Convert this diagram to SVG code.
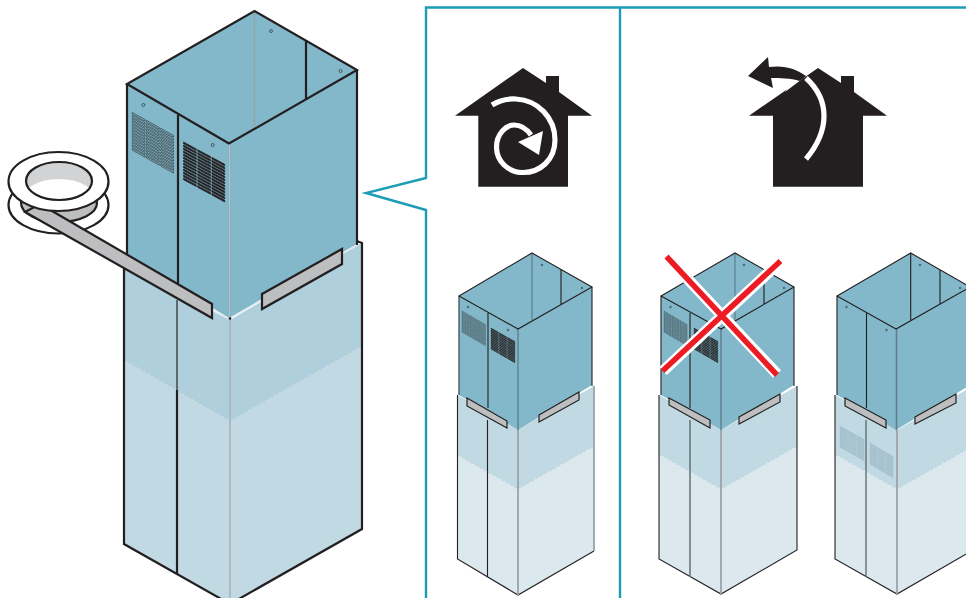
<svg xmlns="http://www.w3.org/2000/svg" xmlns:xlink="http://www.w3.org/1999/xlink" width="966" height="598" viewBox="0 0 966 598">
<style>
.k{fill:none;stroke:#231f20;stroke-width:2.2;stroke-linejoin:miter}
.k1{fill:none;stroke:#231f20;stroke-width:1.1}
.g{fill:none;stroke:#8fa5ad;stroke-width:1.6}
.gw{fill:none;stroke:#9aa3a8;stroke-width:1.8}
.dash{fill:none;stroke:#a5bcc6;stroke-width:.5;stroke-dasharray:3 2}
.teal{fill:#82b8ca}
.up{fill:#afcfdc}
.lo{fill:#c1d9e3}
.up2{fill:#c0d9e3}
.lo2{fill:#dbe8ee}
.strap{fill:#bcbec0;stroke:#231f20;stroke-width:2.2}
.strap2{fill:#bcbec0;stroke:#231f20;stroke-width:1.2}
.hole{fill:#82b8ca;stroke:#333;stroke-width:.7}
.frame{fill:none;stroke:#1c9db5;stroke-width:2.4}
.black{fill:#231f20}
.wl{fill:none;stroke:#fff;stroke-width:5.200}
.slat{fill:none;stroke:#231f20;stroke-width:.5}
.slatd{fill:#231f20;stroke:#231f20;stroke-width:.6}
</style>
<defs>
<clipPath id="holeclip"><ellipse cx="59" cy="181" rx="33" ry="19"/></clipPath>
<g id="row"><rect x="0" width="12.8" height="1.7"/><rect x="14.2" width="12.8" height="1.7"/><rect x="28.4" width="12.8" height="1.7"/></g>
<g id="grill">
<use xlink:href="#row" y="0"/><use xlink:href="#row" y="3"/><use xlink:href="#row" y="6"/><use xlink:href="#row" y="9"/><use xlink:href="#row" y="12"/><use xlink:href="#row" y="15"/><use xlink:href="#row" y="18"/><use xlink:href="#row" y="21"/><use xlink:href="#row" y="24"/><use xlink:href="#row" y="27"/><use xlink:href="#row" y="30"/><use xlink:href="#row" y="33"/><use xlink:href="#row" y="36"/>
</g>
</defs>

<g id="frame">
<path class="frame" d="M426 598V210L366 193L426 178V7.500H966"/>
<path class="frame" d="M620 7.500V598"/>
</g>

<g id="main-tower">
<path class="up" d="M124 266L230 320L362 243V346L230 421L124 360Z"/>
<path class="lo" d="M124 360L230 421L362 346V529L230 604L124 544Z"/>
<path class="dash" d="M124 360L230 421L362 346"/>
<path class="k" d="M124 266V544L230 604L362 529V243L354 240"/>
<path d="M177 300V390" fill="none" stroke="#4a4f52" stroke-width="1.600"/>
<path class="k" d="M177 390V574"/>
<path class="gw" d="M230 319V598"/>
<path d="M230 319V598" fill="none" stroke="#e4edf0" stroke-width=".5"/>
<path class="teal" d="M254.500 11L357 70V244L229 318L127 256V84Z"/>
<path d="M229 319L357 245M229 319L140 268" fill="none" stroke="#dfe6e9" stroke-width="1.200"/>
<path class="g" d="M254.500 11V130"/>
<path class="g" d="M229.500 144V318"/>
<path d="M229.500 144V318" fill="none" stroke="#cfe0e6" stroke-width=".5"/>
<circle cx="230" cy="318.500" r="1.300" fill="#231f20"/>
<path class="k" d="M306 41V100"/>
<path class="k" d="M178 115V286"/>
<path class="k" d="M127 84V256"/>
<path class="k" d="M357 70V245"/>
<path class="k" d="M229 143.500L127 84L254.500 11L357 70Z"/>
<circle class="hole" cx="143.300" cy="105" r="1.500"/>
<circle class="hole" cx="212.700" cy="145" r="1.500"/>
<circle class="hole" cx="271" cy="31" r="1.500"/>
<circle class="hole" cx="340.500" cy="71" r="1.500"/>
<g class="slat" transform="matrix(1 .555 0 1 132.300 112.500)"><use xlink:href="#grill"/></g>
<g class="slatd" transform="matrix(1 .54 0 1 183.500 142)"><use xlink:href="#grill"/></g>
<polygon class="strap" points="262,294 342,249 342,264 262,309"/>
</g>

<g id="tape-roll">
<ellipse cx="58.500" cy="205" rx="50" ry="28.500" fill="#fff" stroke="#231f20" stroke-width="2.200"/>
<ellipse cx="59" cy="203" rx="38" ry="19" fill="#bcbec0" stroke="#231f20" stroke-width="2.200"/>
<polygon class="strap" points="40,204 212,304 212,318 25,212"/>
<ellipse cx="58.500" cy="181.500" rx="50" ry="29.500" fill="#fff" stroke="#231f20" stroke-width="2.200"/>
<ellipse cx="59" cy="181" rx="33" ry="19" fill="#d1d3d4"/>
<ellipse cx="59" cy="200" rx="37" ry="21" fill="#fff" clip-path="url(#holeclip)"/>
<ellipse cx="59" cy="181" rx="33" ry="19" fill="none" stroke="#231f20" stroke-width="2.200"/>
</g>

<g id="icon-recirculate">
<path class="black" d="M523 68L546 83V76H559V92L592 115.700H568V186.700H478.300V115.700H455Z"/>
<path class="wl" d="M492 105C500 100 508 98.500 516 99C538 100 555 118 555 140C555 160 540 172.500 523 172.500C508 172.500 496.500 161 496.500 147C496.500 134 506 125 514 125C520 125 526 128 531 135"/>
<polygon points="543,131 539,155 518,142" fill="#fff"/>
</g>

<g id="icon-exhaust">
<path class="black" d="M818 68L841 83V76H854V92L887 115.700H863V186.700H773V115.700H749Z"/>
<path d="M806 159C830 130 830 100 806 78" fill="none" stroke="#fff" stroke-width="5.200"/>
<path d="M793 81L804 77L806 76L785 92Z" fill="#fff"/>
<path class="black" d="M748 76L768 57L769 67C785 65 796 69 806 76L800 81C790 78 780 78 771 78L773 88Z"/>
</g>

<g id="tower-a">
<path class="up2" d="M457.500 395L518 430L594 386V446L518 489L457.500 455Z"/>
<path class="lo2" d="M457.500 455L518 489L594 446V551L518 595L457.500 559Z"/>
<path class="dash" d="M457.500 455L518 489L594 446"/>
<path class="k1" d="M457.500 395V559L518 595L594 551"/>
<path class="gw" d="M594 386V551M518 430V595"/>
<path class="k1" d="M487.500 420V577"/>
<path class="teal" d="M532 253L592 287V385L518 430L459 395V296Z"/>
<path d="M532 253V320" stroke="#5f7f8c" stroke-width="1.200" fill="none"/>
<path d="M518 329V430" stroke="#5f7f8c" stroke-width="1.400" fill="none"/>
<path d="M459 296V395" stroke="#4a5a62" stroke-width="1.400" fill="none"/>
<path class="k1" d="M592 287V386M561 270V304M488 313V408M518 329L459 296L532 253L592 287Z"/>
<g class="slat" transform="matrix(.57 .33 0 .56 462 311)"><use xlink:href="#grill"/></g>
<g class="slatd" transform="matrix(.58 .33 0 .56 491 328)"><use xlink:href="#grill"/></g>
<circle class="hole" cx="468" cy="307" r=".8"/><circle class="hole" cx="508" cy="330" r=".8"/><circle class="hole" cx="542" cy="265" r=".8"/><circle class="hole" cx="582" cy="288" r=".8"/>
<polygon class="strap2" points="467,398 507,421 507,428 467,406"/>
<polygon class="strap2" points="539,415 579,392 579,400 539,422"/>
</g>

<g id="tower-b">
<path class="up2" d="M659 395L721 430L797 386V446L721 489L659 454Z"/>
<path class="lo2" d="M659 454L721 489L797 446V550L721 594L659 559Z"/>
<path class="dash" d="M659 454L721 489L797 446"/>
<path class="k1" d="M659 395V559L721 594L797 550V386"/>
<path class="gw" d="M721 430V594"/>
<path d="M690 420V577" fill="none" stroke="#6b777c" stroke-width="1.600"/>
<path class="teal" d="M735 253L794 287V385L721 430L661 395V296Z"/>
<path d="M735 253V320" stroke="#5f7f8c" stroke-width="1.200" fill="none"/>
<path d="M721 329V430" stroke="#5f7f8c" stroke-width="1.400" fill="none"/>
<path class="k1" d="M661 296V395M794 287V386M764 270V304M690 313V408M721 329L661 296L735 253L794 287Z"/>
<g class="slat" transform="matrix(.56 .33 0 .56 664 311)"><use xlink:href="#grill"/></g>
<g class="slatd" transform="matrix(.58 .33 0 .56 694 328)"><use xlink:href="#grill"/></g>
<circle class="hole" cx="670.500" cy="307" r=".8"/><circle class="hole" cx="711" cy="330" r=".8"/><circle class="hole" cx="744" cy="265" r=".8"/><circle class="hole" cx="784" cy="288" r=".8"/>
<polygon class="strap2" points="669,398 710,420 710,428 669,405"/>
<polygon class="strap2" points="739,417 780,394 780,402 739,424"/>
<path d="M668 258L777 374M781 261L663 371" fill="none" stroke="#fff" stroke-width="11"/>
<path d="M666.500 256.500L777 375M780.500 261L662.500 371" fill="none" stroke="#ed1c24" stroke-width="5.500"/>
</g>

<g id="tower-c">
<path class="up2" d="M835 395L897 430L973 386V446L897 489L835 454Z"/>
<path class="lo2" d="M835 454L897 489L973 446V550L897 594L835 559Z"/>
<path class="dash" d="M835 454L897 489L973 446"/>
<path class="k1" d="M835 395V559L897 594L973 550"/>
<path class="gw" d="M897 430V594"/>
<path d="M866 420V577" stroke="#5a666c" stroke-width="1.300" fill="none"/>
<g fill="#a6c1cd" stroke="#97b4c1" stroke-width=".5" transform="matrix(.585 .33 0 .56 840 426)"><use xlink:href="#grill"/></g>
<g fill="#a6c1cd" stroke="#97b4c1" stroke-width=".5" transform="matrix(.56 .33 0 .56 870 443)"><use xlink:href="#grill"/></g>
<path class="teal" d="M910.700 253L970 287V385L896 430L837 395V296Z"/>
<path d="M896.500 329V430" stroke="#5f7f8c" stroke-width="1.600" fill="none"/>
<path class="k1" d="M837 296V395M910.700 253V321M940 270V304M866.500 313V408M896 329L837 296L910.700 253L970 287Z"/>
<circle class="hole" cx="846.500" cy="307" r=".8"/><circle class="hole" cx="886.500" cy="330" r=".8"/><circle class="hole" cx="920" cy="265" r=".8"/><circle class="hole" cx="960" cy="288" r=".8"/>
<polygon class="strap2" points="845,398 886,420 886,428 845,406"/>
<polygon class="strap2" points="915,417 956,394 956,403 915,424"/>
</g>
</svg>
